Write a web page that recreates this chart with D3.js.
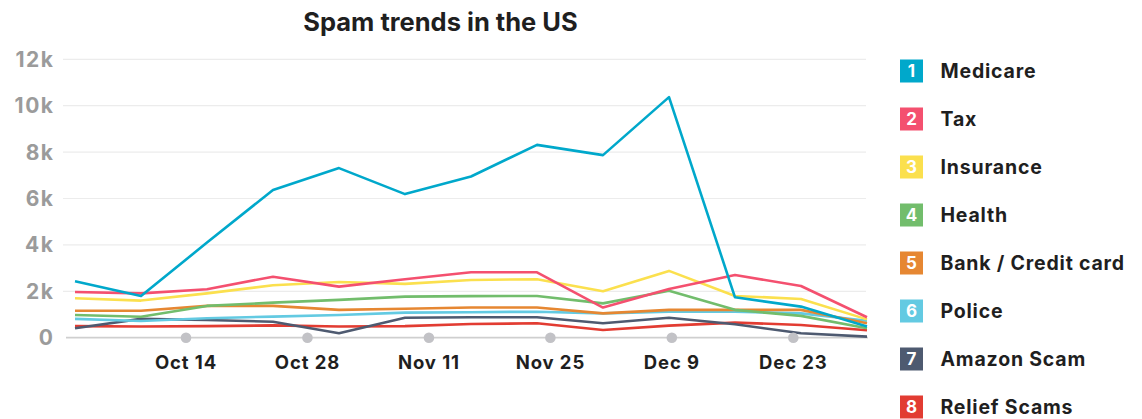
<!DOCTYPE html>
<html><head><meta charset="utf-8">
<script src="https://cdn.jsdelivr.net/npm/d3@7"></script>
<style>
body{margin:0;background:#fff;}
text{font-family:Inter,"Open Sans",sans-serif;}
</style></head>
<body><svg id="c" width="1142" height="419"></svg>
<script>
const seriesNames = ["Medicare","Tax","Insurance","Health","Bank / Credit card","Police","Amazon Scam","Relief Scams"];
const colors = ["#00a8cb","#f4506f","#fbe04e","#72bd6c","#e68732","#63cae2","#4e5a70","#e23c32"];
const medicare = [2430,1800,4100,6370,7310,6190,6950,8310,7870,10370,1740,1340,480];
const tax = [1970,1910,2090,2630,2200,2520,2820,2820,1300,2100,2700,2230,880];
const insurance = [1700,1600,1910,2260,2400,2320,2490,2520,2000,2880,1800,1670,790];
const health = [980,900,1370,1510,1630,1770,1790,1800,1480,2020,1200,940,410];
const bank = [1160,1160,1370,1370,1200,1250,1300,1300,1050,1200,1200,1200,620];
const police = [810,720,840,910,980,1080,1100,1120,1050,1120,1120,1050,730];
const amazon = [410,810,760,690,190,860,880,880,620,860,580,190,45];
const relief = [500,480,500,530,480,500,590,620,330,520,650,550,320];
const allSeries = [medicare,tax,insurance,health,bank,police,amazon,relief];
const yTicks = [0,2000,4000,6000,8000,10000,12000];
const xTickDates = ["2019-10-14","2019-10-28","2019-11-11","2019-11-25","2019-12-09","2019-12-23"];

const svg = d3.select("#c");
const x = d3.scaleLinear().domain([0, medicare.length-1]).range([75, 867]);
const xt = d3.scaleTime().domain([new Date("2019-10-14T00:00:00"), new Date("2019-12-23T00:00:00")]).range([186, 793.3]);
const y = d3.scaleLinear().domain([0, 12000]).range([337.7, 59.3]);

svg.append("text").attr("x", 440.5).attr("y", 31).attr("text-anchor","middle")
  .attr("font-size", 25.5).attr("font-weight", 700).attr("fill","#1f1f1f").text("Spam trends in the US");

// gridlines
svg.append("g").selectAll("line").data(yTicks.filter(d=>d>0)).join("line")
  .attr("x1", 63).attr("x2", 866).attr("y1", d=>y(d)).attr("y2", d=>y(d))
  .attr("stroke", "#ececec").attr("stroke-width", 1.2);
svg.append("line").attr("x1", 66).attr("x2", 868).attr("y1", y(0)).attr("y2", y(0))
  .attr("stroke", "#cfcfcf").attr("stroke-width", 1.8);

// y labels
svg.append("g").selectAll("text").data(yTicks).join("text")
  .attr("x", 54.5).attr("y", d=>y(d)).attr("dy","0.36em").attr("text-anchor","end")
  .attr("font-size", 21).attr("font-weight", 700).attr("fill", "#9b9b9b")
  .attr("letter-spacing", 1.5)
  .text(d => d === 0 ? "0" : (d/1000) + "k");

// lines
const line = d3.line().x((d,i)=>x(i)).y(d=>y(d));
const order = [7,6,5,4,3,2,1,0];
svg.append("g").selectAll("path").data(order).join("path")
  .attr("d", k => line(allSeries[k])).attr("fill","none")
  .attr("stroke", k => colors[k]).attr("stroke-width", 2.6)
  .attr("stroke-linejoin","round");

// x ticks
const parse = d3.timeParse("%Y-%m-%d");
const fmt = d3.timeFormat("%b %-d");
const tg = svg.append("g").selectAll("g").data(xTickDates.map(parse)).join("g")
  .attr("transform", d => `translate(${xt(d)},0)`);
tg.append("circle").attr("cx",0).attr("cy", y(0)).attr("r", 5.3).attr("fill","#c2c2c6");
tg.append("text").attr("x",0).attr("y", 369).attr("text-anchor","middle")
  .attr("font-size", 18.5).attr("font-weight", 700).attr("fill","#1f1f1f")
  .attr("letter-spacing", 0.9).text(d=>fmt(d));

// legend
const lg = svg.append("g").selectAll("g").data(seriesNames).join("g")
  .attr("transform", (d,i)=>`translate(900,${71 + i*48})`);
lg.append("rect").attr("x",0).attr("y",-11.5).attr("width",23).attr("height",23)
  .attr("fill",(d,i)=>colors[i]);
lg.append("text").attr("x",11.5).attr("y",0).attr("dy","0.36em").attr("text-anchor","middle")
  .attr("font-size",17).attr("font-weight",700).attr("fill","#fff").text((d,i)=>i+1);
lg.append("text").attr("x",40.5).attr("y",0).attr("dy","0.36em")
  .attr("font-size",19.5).attr("font-weight",700).attr("fill","#1f1f1f")
  .attr("letter-spacing", 0.8).text(d=>d);
</script></body></html>
